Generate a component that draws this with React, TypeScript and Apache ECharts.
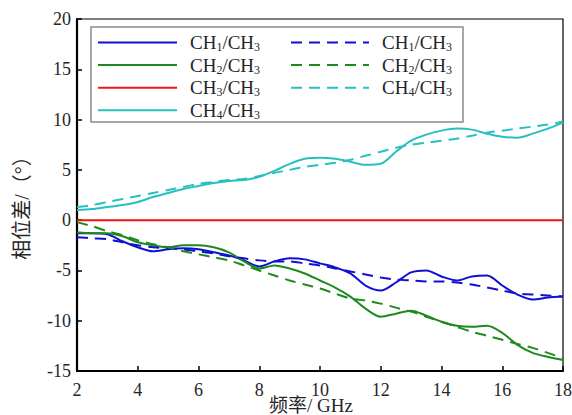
import React, { useEffect, useRef } from "react";
import * as echarts from "echarts";

const freq = [2, 2.5, 3, 3.5, 4, 4.5, 5, 5.5, 6, 6.5, 7, 7.5, 8, 8.5, 9, 9.5, 10, 10.5, 11, 11.5, 12, 12.5, 13, 13.5, 14, 14.5, 15, 15.5, 16, 16.5, 17, 17.5, 18];

const ch1Solid = [-1.3, -1.3, -1.4, -2.1, -2.7, -3.1, -2.9, -2.8, -2.9, -3.2, -3.5, -4.0, -4.6, -4.1, -3.8, -3.9, -4.3, -4.7, -5.3, -6.5, -7.0, -6.2, -5.2, -5.0, -5.6, -6.0, -5.6, -5.5, -6.5, -7.4, -7.9, -7.7, -7.6];
const ch2Solid = [-1.2, -1.3, -1.3, -1.6, -2.2, -2.5, -2.7, -2.5, -2.5, -2.7, -3.2, -4.1, -4.8, -4.5, -4.8, -5.3, -6.0, -6.7, -7.6, -8.8, -9.6, -9.3, -9.0, -9.5, -10.1, -10.5, -10.6, -10.5, -11.2, -12.4, -13.2, -13.6, -13.9];
const ch3Solid = [0, 0, 0, 0, 0, 0, 0, 0, 0, 0, 0, 0, 0, 0, 0, 0, 0, 0, 0, 0, 0, 0, 0, 0, 0, 0, 0, 0, 0, 0, 0, 0, 0];
const ch4Solid = [1.0, 1.1, 1.3, 1.5, 1.8, 2.3, 2.7, 3.1, 3.4, 3.7, 3.9, 4.0, 4.3, 4.9, 5.6, 6.1, 6.2, 6.1, 5.8, 5.5, 5.6, 6.8, 7.9, 8.5, 8.9, 9.1, 9.0, 8.6, 8.3, 8.2, 8.6, 9.1, 9.7];

const ch1Dashed = [-1.7, -1.8, -1.9, -2.2, -2.5, -2.7, -2.8, -2.9, -3.1, -3.3, -3.6, -3.8, -4.0, -4.1, -4.1, -4.3, -4.5, -4.8, -5.1, -5.4, -5.7, -5.9, -6.0, -6.1, -6.1, -6.2, -6.4, -6.7, -7.0, -7.3, -7.4, -7.5, -7.6];
const ch2Dashed = [-0.2, -0.6, -1.1, -1.5, -2.0, -2.4, -2.7, -3.1, -3.4, -3.7, -4.0, -4.5, -5.0, -5.5, -6.0, -6.4, -6.8, -7.3, -7.8, -8.0, -8.3, -8.7, -9.1, -9.6, -10.1, -10.6, -11.1, -11.5, -11.9, -12.3, -12.7, -13.2, -13.7];
const ch4Dashed = [1.3, 1.5, 1.8, 2.1, 2.4, 2.7, 3.0, 3.3, 3.6, 3.8, 4.0, 4.1, 4.4, 4.7, 5.0, 5.3, 5.5, 5.7, 6.0, 6.4, 6.8, 7.2, 7.5, 7.7, 7.9, 8.1, 8.4, 8.7, 8.9, 9.1, 9.3, 9.5, 9.8];

const solidNames = ["CH1/CH3", "CH2/CH3", "CH3/CH3", "CH4/CH3"];
const dashedNames = ["CH1/CH3 ", "CH2/CH3 ", "CH4/CH3 "];

const xAxisName = "频率/ GHz";
const yAxisName = "相位差/（°）";

const BLUE = "#1010d2";
const GREEN = "#1e8a1e";
const RED = "#f01414";
const CYAN = "#28bfbf";

const SERIF = "'Liberation Serif', 'Times New Roman', serif";
const SERIF_CJK = "'Liberation Serif', 'Noto Sans CJK SC', serif";
const TEXT = "#262626";

function pairs(vals: number[]) {
  return freq.map((f, i) => [f, vals[i]]);
}

export default function App() {
  const ref = useRef<HTMLDivElement>(null);
  useEffect(() => {
    document.body.style.margin = "0";
    const chart = echarts.init(ref.current!, null, { renderer: "svg" });

    const mk = (name: string, vals: number[], color: string, dashed: boolean) => ({
      name,
      type: "line",
      data: pairs(vals),
      symbol: "none",
      showSymbol: false,
      smooth: 0.3,
      lineStyle: { color, width: 2, type: dashed ? [11, 7] : "solid" },
      itemStyle: { color },
      z: dashed ? 3 : 2,
    });

    const legendFormatter = (name: string) => {
      const m = name.match(/CH(\d)\/CH(\d)/);
      if (!m) return name;
      return `{a|CH}{s|${m[1]}}{n|/CH}{s|${m[2]}}`;
    };
    const rich = {
      a: { fontSize: 19, lineHeight: 19, padding: [0, 0, 0, 8], fontFamily: SERIF, color: TEXT },
      n: { fontSize: 19, lineHeight: 19, fontFamily: SERIF, color: TEXT },
      s: { fontSize: 12, lineHeight: 10, padding: [9, 0, 0, 0], fontFamily: SERIF, color: TEXT },
    };

    const legendBase = {
      orient: "vertical",
      top: 32,
      padding: 0,
      itemHeight: 19,
      itemGap: 1.6,
      formatter: legendFormatter,
      itemStyle: { opacity: 0 },
      textStyle: { rich, fontFamily: SERIF, fontSize: 19, color: TEXT },
      selectedMode: false,
      z: 10,
    };

    chart.setOption({
      animation: false,
      backgroundColor: "#fff",
      grid: {
        left: 77,
        right: 9,
        top: 19,
        bottom: 44,
        outerBoundsMode: "none",
        containLabel: false,
        show: true,
        borderColor: "#000",
        borderWidth: 1.2,
        backgroundColor: "transparent",
      },
      legend: [
        { ...legendBase, data: solidNames, left: 97, itemWidth: 79 },
        { ...legendBase, data: dashedNames, left: 290, itemWidth: 78 },
      ],
      graphic: [
        {
          type: "rect",
          z: 8,
          shape: { x: 91, y: 27, width: 372, height: 95 },
          style: { fill: "#fff", stroke: "#8a8a8a", lineWidth: 1.5 },
        },
      ],
      xAxis: {
        type: "value",
        min: 2,
        max: 18,
        interval: 2,
        name: xAxisName,
        nameLocation: "middle",
        nameGap: 26,
        nameMoveOverlap: false,
        nameTextStyle: { fontFamily: SERIF_CJK, fontSize: 19, lineHeight: 17, color: TEXT, padding: [0, 18, 0, 0] },
        axisLine: { onZero: false, lineStyle: { color: "#000", width: 2.2 } },
        axisTick: { inside: true, length: 5, lineStyle: { color: "#000", width: 1.5 } },
        axisLabel: { fontFamily: SERIF, fontSize: 18, lineHeight: 14, color: TEXT, margin: 12 },
        splitLine: { show: false },
      },
      yAxis: {
        type: "value",
        min: -15,
        max: 20,
        interval: 5,
        name: yAxisName,
        nameLocation: "middle",
        nameGap: 45,
        nameRotate: 90,
        nameMoveOverlap: false,
        nameTextStyle: { fontFamily: SERIF_CJK, fontSize: 20, color: TEXT, padding: [0, 16, 0, 0] },
        axisLine: { onZero: false, lineStyle: { color: "#000", width: 2.2 } },
        axisTick: { inside: true, length: 5, lineStyle: { color: "#000", width: 1.5 } },
        axisLabel: { fontFamily: SERIF, fontSize: 18, color: TEXT, margin: 6 },
        splitLine: { show: false },
      },
      series: [
        mk(solidNames[0], ch1Solid, BLUE, false),
        mk(solidNames[1], ch2Solid, GREEN, false),
        mk(solidNames[2], ch3Solid, RED, false),
        mk(solidNames[3], ch4Solid, CYAN, false),
        mk(dashedNames[0], ch1Dashed, BLUE, true),
        mk(dashedNames[1], ch2Dashed, GREEN, true),
        mk(dashedNames[2], ch4Dashed, CYAN, true),
      ],
    });
    return () => chart.dispose();
  }, []);
  return <div ref={ref} style={{ width: 572, height: 415 }} />;
}
